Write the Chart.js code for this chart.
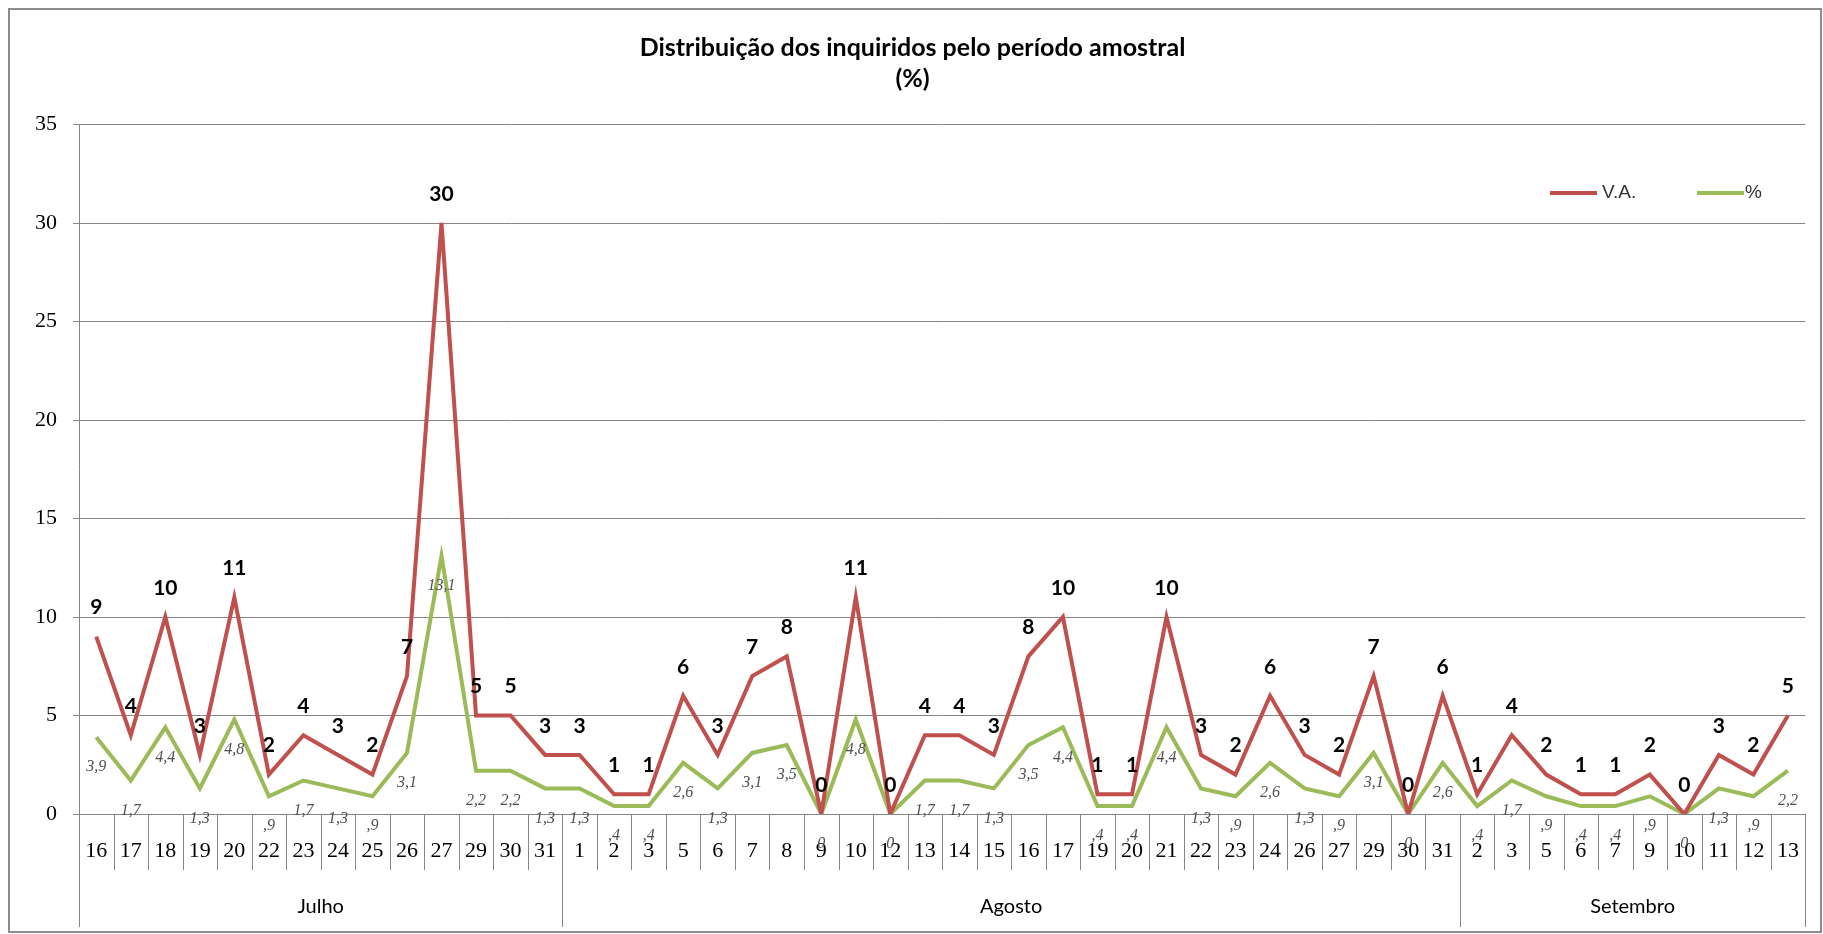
<!DOCTYPE html>
<html>
<head>
<meta charset="utf-8">
<script src="https://cdn.jsdelivr.net/npm/chart.js@4.4.1/dist/chart.umd.min.js"></script>
<style>
  html, body { margin: 0; padding: 0; background: #fff; }
  #wrap { width: 1823px; height: 934px; }
</style>
</head>
<body>
<div id="wrap"><canvas id="grafico"></canvas></div>
<script>
// dias de inquérito (Julho, Agosto, Setembro)
var dias = ['16','17','18','19','20','22','23','24','25','26','27','29','30','31',
            '1','2','3','5','6','7','8','9','10','12','13','14','15','16','17','19','20','21','22','23','24','26','27','29','30','31',
            '2','3','5','6','7','9','10','11','12','13'];
var meses = ['Julho', 'Agosto', 'Setembro'];
var diasPorMes = [14, 26, 10];

var valoresVA = [9,4,10,3,11,2,4,3,2,7,30,5,5,3,
                 3,1,1,6,3,7,8,0,11,0,4,4,3,8,10,1,1,10,3,2,6,3,2,7,0,6,
                 1,4,2,1,1,2,0,3,2,5];
var valoresPct = [3.9,1.7,4.4,1.3,4.8,0.9,1.7,1.3,0.9,3.1,13.1,2.2,2.2,1.3,
                  1.3,0.4,0.4,2.6,1.3,3.1,3.5,0,4.8,0,1.7,1.7,1.3,3.5,4.4,0.4,0.4,4.4,1.3,0.9,2.6,1.3,0.9,3.1,0,2.6,
                  0.4,1.7,0.9,0.4,0.4,0.9,0,1.3,0.9,2.2];
var yTicks = [0, 5, 10, 15, 20, 25, 30, 35];

var cinza = '#868686';

function fmtPct(v) {
  if (v === 0) return '0';
  return v.toFixed(1).replace('.', ',').replace(/^0/, '');
}

// moldura e fundo
var moldura = {
  id: 'moldura',
  beforeDraw: function(chart) {
    var c = chart.ctx;
    c.save();
    c.fillStyle = '#fff';
    c.fillRect(0, 0, chart.width, chart.height);
    c.strokeStyle = '#8c8c8c';
    c.lineWidth = 2;
    c.strokeRect(9, 9, 1812, 923);
    c.restore();
  }
};

// tabela do eixo x: separadores dos dias e nomes dos meses
var tabelaX = {
  id: 'tabelaX',
  afterDraw: function(chart) {
    var c = chart.ctx, x = chart.scales.x, area = chart.chartArea;
    var n = dias.length;
    var larg = (x.getPixelForValue(1) - x.getPixelForValue(0));
    var limites = [0];
    var acc = 0;
    diasPorMes.forEach(function(k) { acc += k; limites.push(acc); });
    c.save();
    c.strokeStyle = cinza;
    c.lineWidth = 1;
    for (var i = 0; i <= n; i++) {
      var px = Math.round(x.getPixelForValue(i) - larg / 2) + 0.5;
      var fim = limites.indexOf(i) >= 0 ? area.bottom + 113 : area.bottom + 56;
      c.beginPath();
      c.moveTo(px, area.bottom);
      c.lineTo(px, fim);
      c.stroke();
    }
    c.fillStyle = '#000';
    c.font = '20px Lato';
    c.textAlign = 'center';
    c.textBaseline = 'middle';
    for (var m = 0; m < meses.length; m++) {
      var a = x.getPixelForValue(limites[m]) - larg / 2;
      var b = x.getPixelForValue(limites[m + 1] - 1) + larg / 2;
      c.fillText(meses[m], (a + b) / 2, area.bottom + 93);
    }
    c.restore();
  }
};

// rótulos de dados
var rotulos = {
  id: 'rotulos',
  afterDatasetsDraw: function(chart) {
    var c = chart.ctx;
    c.save();
    c.textAlign = 'center';
    c.textBaseline = 'middle';
    chart.getDatasetMeta(0).data.forEach(function(pt, j) {
      c.fillStyle = '#000';
      c.font = 'bold 21px Lato';
      c.fillText(String(valoresVA[j]), pt.x, pt.y - 29);
    });
    chart.getDatasetMeta(1).data.forEach(function(pt, j) {
      c.fillStyle = '#505050';
      c.font = 'italic 16px "Liberation Serif"';
      c.fillText(fmtPct(valoresPct[j]), pt.x, pt.y + 30);
    });
    c.restore();
  }
};

// legenda dentro do gráfico
var legenda = {
  id: 'legenda',
  afterDraw: function(chart) {
    var c = chart.ctx;
    var pos = [[1550, 1602], [1697, 1745]];
    c.save();
    c.font = '19px "Liberation Sans"';
    c.textBaseline = 'middle';
    c.textAlign = 'left';
    chart.data.datasets.forEach(function(ds, i) {
      c.strokeStyle = ds.borderColor;
      c.lineWidth = 4;
      c.beginPath();
      c.moveTo(pos[i][0], 193);
      c.lineTo(pos[i][0] + 47, 193);
      c.stroke();
      c.fillStyle = '#333';
      c.fillText(ds.label, pos[i][1], 193);
    });
    c.restore();
  }
};

var ctx = document.getElementById('grafico').getContext('2d');
var grafico = new Chart(ctx, {
  type: 'line',
  data: {
    labels: dias,
    datasets: [{
      label: 'V.A.',
      data: valoresVA,
      borderColor: '#C0504D',
      backgroundColor: '#C0504D',
      borderWidth: 4,
      pointRadius: 0,
      tension: 0,
      borderJoinStyle: 'miter'
    }, {
      label: '%',
      data: valoresPct,
      borderColor: '#9BBB59',
      backgroundColor: '#9BBB59',
      borderWidth: 4,
      pointRadius: 0,
      tension: 0,
      borderJoinStyle: 'miter'
    }]
  },
  options: {
    responsive: true,
    maintainAspectRatio: false,
    animation: false,
    layout: { padding: { left: 10, right: 8, top: 10, bottom: 0 } },
    plugins: {
      legend: { display: false },
      tooltip: { enabled: false },
      title: {
        display: true,
        text: ['Distribuição dos inquiridos pelo período amostral', '(%)'],
        color: '#000',
        font: { family: 'Lato', size: 25, weight: 'bold', lineHeight: 1.25 },
        padding: { top: 22, bottom: 30 }
      }
    },
    scales: {
      y: {
        min: 0,
        max: 35,
        afterBuildTicks: function(s) { s.ticks = yTicks.map(function(v) { return { value: v }; }); },
        afterFit: function(s) { s.width = 69; },
        grid: { color: cinza, lineWidth: 1, tickLength: 6, tickColor: cinza },
        border: { color: cinza },
        ticks: { font: { family: 'Liberation Serif', size: 22 }, color: '#000', padding: 16 }
      },
      x: {
        offset: true,
        grid: { display: false, drawTicks: false },
        border: { display: true, color: cinza },
        ticks: { autoSkip: false, maxRotation: 0, font: { family: 'Liberation Serif', size: 22 }, color: '#000', padding: 24 },
        afterFit: function(s) { s.height = 120; }
      }
    }
  },
  plugins: [moldura, tabelaX, rotulos, legenda]
});
</script>
</body>
</html>
